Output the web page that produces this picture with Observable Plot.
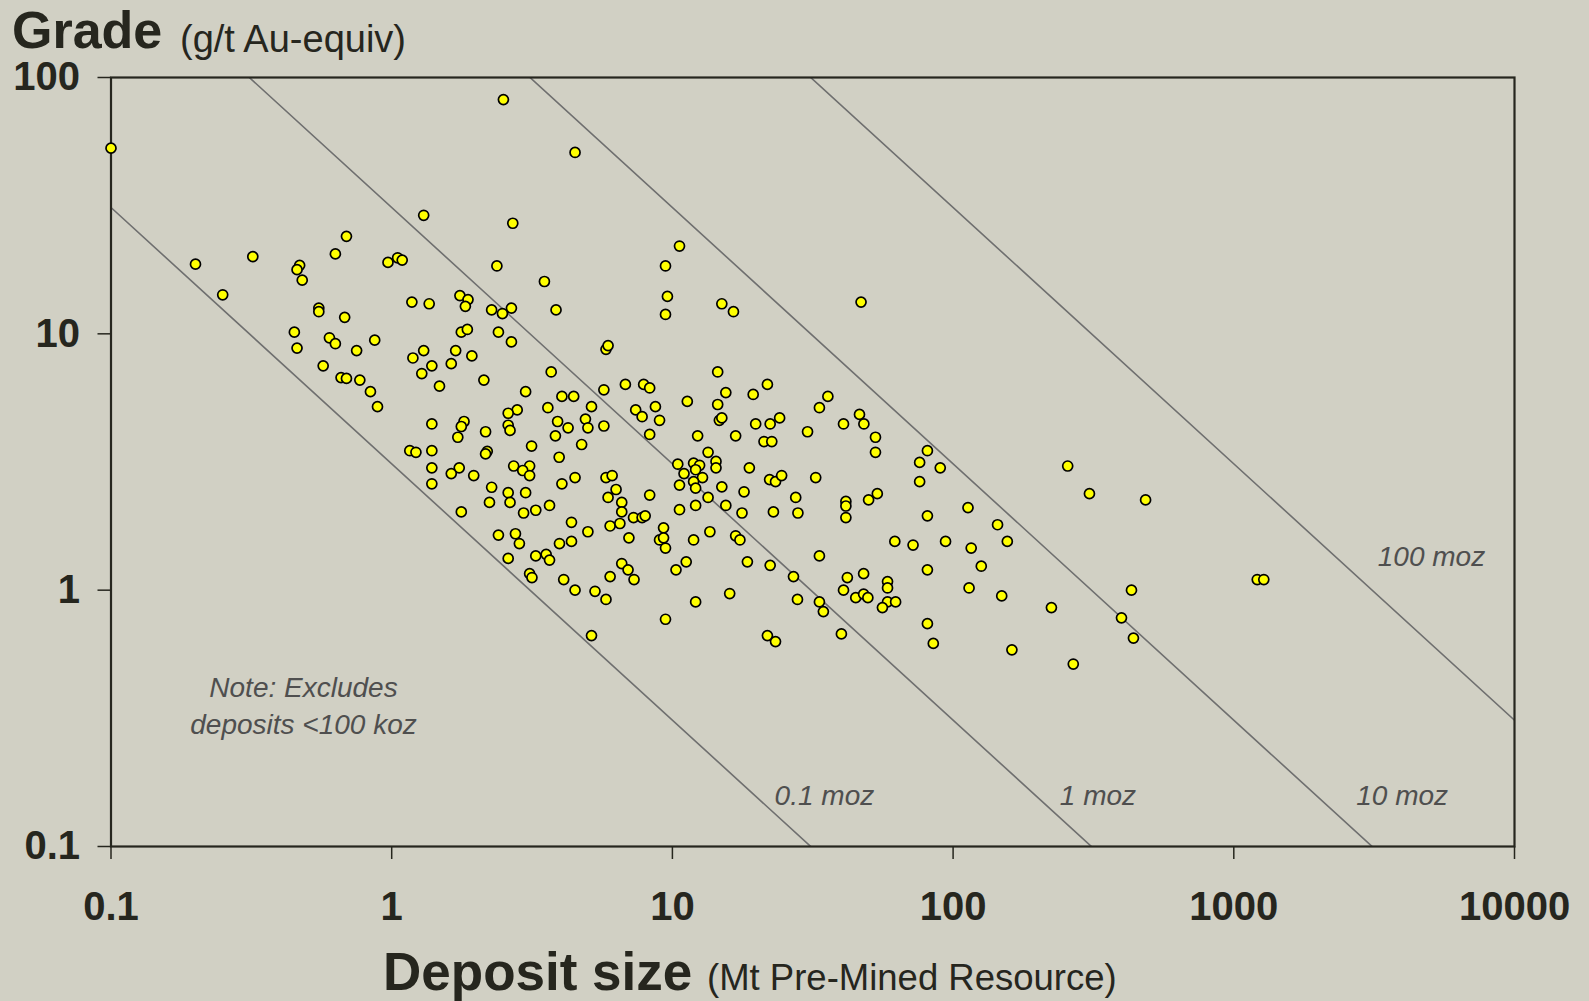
<!DOCTYPE html>
<html><head><meta charset="utf-8">
<script src="https://cdn.jsdelivr.net/npm/d3@7"></script>
<script src="https://cdn.jsdelivr.net/npm/@observablehq/plot@0.6"></script>
<style>
html,body{margin:0;padding:0;background:#d1d0c4;width:1589px;height:1001px;overflow:hidden;}
#wrap{position:relative;width:1589px;height:1001px;}
#chart{position:absolute;left:0;top:0;}
.t{position:absolute;white-space:nowrap;font-family:"Liberation Sans",Arial,Helvetica,sans-serif;color:#26261e;}
</style></head><body>
<div id="wrap">
  <div id="chart"></div>
  <div class="t" style="left:12px;top:8px;font-size:52px;line-height:44px;font-weight:bold">Grade</div>
  <div class="t" style="left:180px;top:22px;font-size:38px;line-height:34px">(g/t Au-equiv)</div>
  <div class="t" style="left:383px;top:949px;font-size:53px;line-height:46px;font-weight:bold">Deposit size</div>
  <div class="t" style="left:707px;top:962px;font-size:36.5px;line-height:32px">(Mt Pre-Mined Resource)</div>
</div>
<script>
// Deposit size (Mt pre-mined resource)
const tonnage = [
  0.1, 2.5, 4.5, 1.3, 2.7, 10.6, 0.69, 0.63, 0.32, 0.2, 0.25, 0.47, 0.46, 0.48, 0.97, 1.05, 1.09, 2.37, 3.5, 9.45,
  0.55, 0.55, 0.68, 0.45, 0.46, 0.6, 0.63, 0.87, 0.75, 0.57, 0.66, 0.69, 0.77, 0.84, 0.89, 1.18, 1.36, 1.75, 1.87, 1.83,
  2.27, 2.48, 1.77, 1.86, 2.4, 1.19, 1.3, 1.39, 1.28, 1.48, 1.69, 1.63, 1.93, 2.13, 1.39, 1.81, 1.77, 2.16, 1.72, 1.16,
  1.22, 1.39, 2.19, 2.16, 1.39, 1.74, 1.63, 1.96, 1.39, 2.27, 2.23, 1.77, 2.4, 2.67, 3.85, 2.67, 9.6, 9.45, 15, 16.5,
  47, 5.8, 5.9, 3.7, 14.5, 3.0, 4.04, 4.45, 5.7, 6.8, 7.9, 8.3, 3.6, 5.15, 2.8, 2.6, 2.6, 2.64, 3.9, 4.25,
  3.83, 4.9, 5.0, 5.7, 3.15, 4.75, 3.95, 2.72, 3.1, 2.93, 3.1, 4.04, 4.5, 5.8, 6.1, 6.3, 7.4, 7.8, 8.7, 9.0,
  8.3, 11.3, 14.5, 15.5, 14.7, 15, 12.3, 13.4, 16.8, 19.4, 21.8, 19.8, 22.3, 24.1, 21.2, 22.6, 30.3, 33.4, 35.8, 40.7,
  46.4, 48.1, 52.9, 52.9, 10.45, 11.0, 11.9, 12.5, 12.1, 14.3, 14.3, 12.8, 11.9, 10.6, 12.1, 15, 18.8, 22.2, 23.3, 24.5,
  32.4, 81, 76, 90, 76, 256, 306, 485, 113, 81, 144, 62, 72, 94, 116, 156, 126, 81, 58.4, 58.4,
  114, 149, 58.4, 62.4, 56, 224, 432, 398, 439, 81, 85, 162, 268, 1212, 1279, 2.6, 3.0, 2.64, 5.9, 6.6,
  6.6, 8.3, 2.95, 3.26, 3.65, 4.37, 4.37, 3.96, 5.0, 6.0, 6.5, 7.27, 7.8, 8.0, 7.0, 9.3, 9.0, 9.3, 9.45, 2.76,
  2.85, 2.6, 3.26, 3.55, 3.65, 3.1, 3.16, 4.1, 4.5, 5.3, 5.8, 6.0, 6.6, 6.95, 7.3, 5.15, 9.45, 10.3, 11.2, 12.1,
  10.6, 12.1, 13.4, 15.5, 18, 17.7, 11.9, 13.6, 16.8, 17.4, 18.5, 16, 22.3, 27, 21.8, 23.3, 27.9, 33.4, 34.5, 40,
  27.5, 28, 22.9, 33.4, 41.5, 41.5, 41.5, 50, 53.7, 42, 48, 40.7, 45, 48, 49.7
];
// Grade (g/t Au-equivalent)
const grade = [
  53, 82, 51, 29, 27, 22, 24, 20.5, 20, 18.7, 14.2, 18.5, 17.8, 16.2, 19, 19.8, 19.4, 18.4, 16, 18.4,
  12.6, 12.2, 11.6, 10.15, 8.8, 9.65, 9.15, 9.45, 8.6, 7.5, 6.75, 6.7, 6.6, 5.95, 5.2, 13.3, 13.1, 14.1, 13.6, 12.8,
  12.4, 12, 10.15, 10.4, 10.15, 8.05, 8.6, 7.5, 7, 6.25, 8.6, 7.65, 8.2, 6.6, 4.45, 4.55, 4.35, 4.15, 3.95, 3.5,
  3.45, 3.5, 3.48, 3.4, 3.0, 3.0, 2.85, 2.8, 2.6, 2.52, 2.2, 2.02, 1.64, 12.6, 12.4, 9.3, 14, 11.9, 13.1, 12.2,
  13.3, 8.7, 9.0, 7.1, 7.1, 5.95, 5.7, 5.7, 6.05, 6.35, 6.35, 6.15, 5.15, 5.2, 5.05, 4.9, 4.4, 4.2, 4.55, 4.3,
  4.0, 4.65, 4.3, 4.37, 3.65, 3.7, 3.3, 3.05, 3.05, 2.93, 2.8, 2.6, 2.75, 2.75, 2.8, 2.47, 5.05, 4.75, 5.2, 4.6,
  4.05, 5.45, 5.3, 5.9, 4.6, 4.7, 4.0, 3.45, 4.0, 5.8, 6.35, 4.45, 4.45, 4.7, 3.8, 3.8, 4.15, 5.15, 5.7, 4.45,
  4.85, 4.45, 3.95, 3.45, 3.1, 2.85, 3.13, 3.07, 2.95, 3.18, 3.0, 2.75, 2.65, 2.57, 2.5, 2.53, 3.0, 2.7, 2.65, 2.8,
  2.75, 3.5, 3.15, 3.0, 2.65, 3.05, 2.38, 2.25, 2.1, 1.95, 1.8, 1.55, 1.5, 1.55, 1.46, 1.55, 1.24, 1.2, 1.08, 1.02,
  1.02, 0.95, 0.9, 0.9, 0.855, 0.855, 1.0, 0.78, 0.65, 0.74, 0.62, 0.585, 0.515, 1.1, 1.1, 2.4, 2.4, 2.2, 2.3, 2.2,
  2.02, 2.35, 2.0, 2.05, 2.14, 1.84, 1.55, 1.52, 1.69, 1.78, 1.82, 1.92, 1.92, 1.95, 1.6, 1.75, 1.57, 1.6, 1.46, 1.66,
  1.52, 1.33, 1.36, 1.38, 1.31, 1.16, 1.12, 1.1, 1.0, 0.99, 0.92, 1.13, 1.27, 1.2, 1.1, 0.665, 0.77, 1.2, 1.29, 0.9,
  2.06, 2.14, 2.3, 2.14, 2.42, 2.0, 1.57, 1.69, 1.63, 1.57, 1.29, 0.97, 1.25, 1.13, 0.665, 0.63, 0.92, 0.9, 0.825, 0.675,
  2.3, 2.0, 2.02, 1.36, 2.22, 2.13, 1.92, 2.25, 2.38, 1.12, 1.16, 1.0, 0.935, 0.965, 0.935
];

// Axes
const xDomain = [0.1, 10000];
const yDomain = [0.1, 100];
const xTicks = [0.1, 1, 10, 100, 1000, 10000];
const yTicks = [0.1, 1, 10, 100];

// Contained-metal iso-lines (moz of gold); 1 moz = 31.1035 t Au => Mt * g/t = 31.1035
const mozLevels = [0.1, 1, 10, 100];
const gramsPerMozPerMt = 31.1035;
const mozLabelText = ["0.1 moz", "1 moz", "10 moz", "100 moz"];
const mozLabelX = [34.8, 328, 3980, 5060];
const mozLabelY = [0.157, 0.157, 0.157, 1.35];

const noteText = "Note: Excludes\ndeposits <100 koz";
const noteX = 0.485;
const noteY = 0.36;

const points = tonnage.map((t, i) => ({t, g: grade[i]}));
const mozLines = mozLevels.flatMap(level =>
  xDomain.map(x => ({level, x, y: level * gramsPerMozPerMt / x})));
const mozLabels = mozLabelText.map((text, i) => ({text, x: mozLabelX[i], y: mozLabelY[i]}));

const ink = "#26261e";
const chart = Plot.plot({
  width: 1589,
  height: 1001,
  marginLeft: 110.5,
  marginRight: 75,
  marginTop: 77,
  marginBottom: 155,
  style: {background: "transparent", fontFamily: "'Liberation Sans', Arial, Helvetica, sans-serif", color: ink, overflow: "visible"},
  x: {type: "log", domain: xDomain, label: null},
  y: {type: "log", domain: yDomain, label: null},
  marks: [
    Plot.line(mozLines, {x: "x", y: "y", z: "level", stroke: "#6f6f6f", strokeWidth: 1.6, clip: true}),
    Plot.frame({stroke: ink, strokeWidth: 2.2}),
    Plot.axisX({ticks: xTicks, tickFormat: d => String(d), tickSize: 13, tickPadding: 32, strokeWidth: 1.5,
      fontSize: 40, fontWeight: "bold", label: null}),
    Plot.axisY({ticks: yTicks, tickFormat: d => String(d), tickSize: 13, tickPadding: 18, strokeWidth: 1.5,
      fontSize: 40, fontWeight: "bold", label: null}),
    Plot.dot(points, {x: "t", y: "g", r: 5, fill: "#ffff00", stroke: "#000000", strokeWidth: 1.7}),
    Plot.text(mozLabels, {x: "x", y: "y", text: "text", fontSize: 28, fontStyle: "italic", fill: "#4f4f4f"}),
    Plot.text([noteText], {x: () => noteX, y: () => noteY, text: d => d, fontSize: 28, fontStyle: "italic",
      fill: "#4f4f4f", lineHeight: 1.32})
  ]
});
document.getElementById("chart").append(chart);
</script>
</body></html>
